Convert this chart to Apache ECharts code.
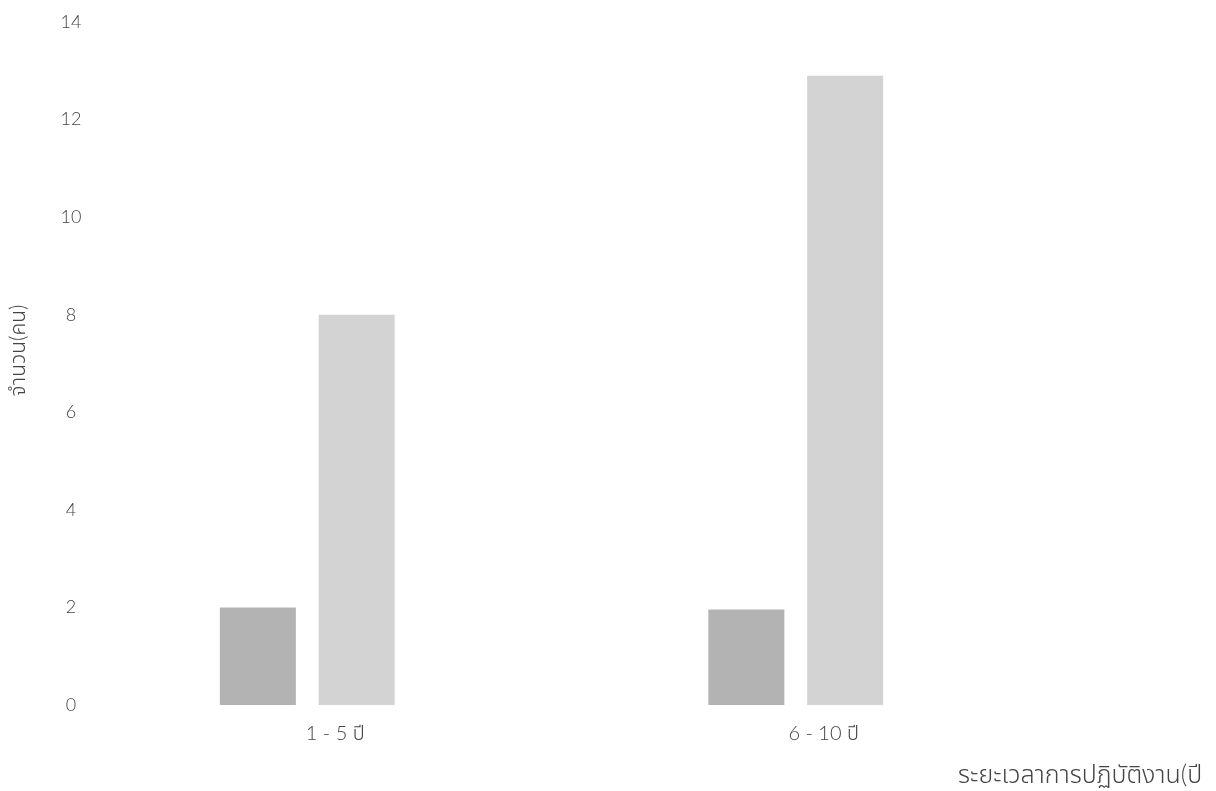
<!DOCTYPE html>
<html>
<head>
<meta charset="utf-8">
<script src="https://cdn.jsdelivr.net/npm/echarts@6/dist/echarts.min.js"></script>
<style>
html,body{margin:0;padding:0;background:#fff;}
#c{width:1216px;height:791px;}
</style>
</head>
<body>
<div id="c"></div>
<script>
var categories = ['1 - 5 ปี', '6 - 10 ปี'];
var seriesA = [2, 1.96];
var seriesB = [8, 12.9];
var yTicks = [0, 2, 4, 6, 8, 10, 12, 14];
var yAxisName = 'จำนวน(คน)';
var xAxisName = 'ระยะเวลาการปฏิบัติงาน(ปี';

var FONT = 'Lato, "Noto Sans", "Noto Sans Thai", sans-serif';
var chart = echarts.init(document.getElementById('c'));
chart.setOption({
  backgroundColor: '#ffffff',
  animation: false,
  grid: {left: 62, right: 176, top: 22, bottom: 86},
  xAxis: {
    type: 'category',
    data: categories,
    axisLine: {show: false},
    axisTick: {show: false},
    splitLine: {show: false},
    axisLabel: {
      color: '#444', fontSize: 20, fontWeight: 300, fontFamily: FONT,
      margin: 19, padding: [0, 0, 0, 56]
    }
  },
  yAxis: {
    type: 'value',
    min: yTicks[0],
    max: yTicks[yTicks.length - 1],
    interval: 2,
    name: yAxisName,
    nameLocation: 'middle',
    nameGap: 34,
    nameTextStyle: {color: '#444', fontSize: 21, fontWeight: 300, fontFamily: FONT, padding: [0, 0, 0, 26]},
    axisLine: {show: false},
    axisTick: {show: false},
    splitLine: {show: false},
    axisLabel: {color: '#444', fontSize: 18, fontWeight: 300, fontFamily: FONT, align: 'center', margin: -8}
  },
  graphic: [{
    type: 'text',
    left: 958,
    top: 762,
    style: {text: xAxisName, fill: '#444', fontSize: 25, fontWeight: 300, fontFamily: FONT}
  }],
  series: [
    {type: 'bar', data: seriesA, barWidth: 76, barGap: '30%', itemStyle: {color: '#b3b3b3'}},
    {type: 'bar', data: seriesB, barWidth: 76, barGap: '30%', itemStyle: {color: '#d3d3d3'}}
  ]
});
</script>
</body>
</html>
